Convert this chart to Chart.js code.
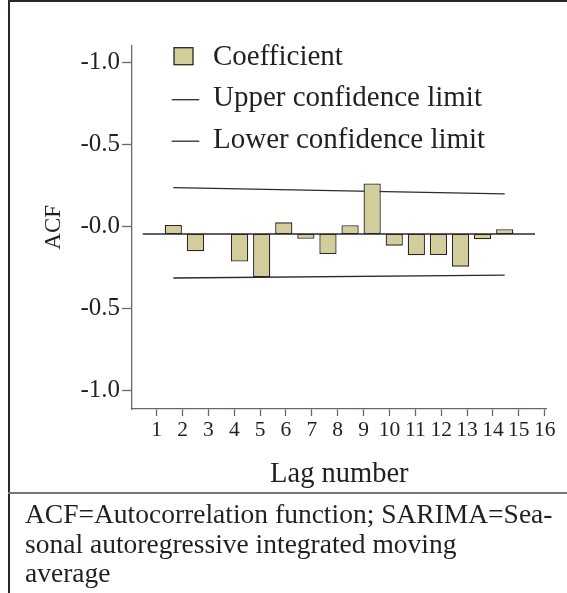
<!DOCTYPE html>
<html>
<head>
<meta charset="utf-8">
<script src="https://cdn.jsdelivr.net/npm/chart.js@4"></script>
<style>
  html, body { margin: 0; padding: 0; background: #fff; }
  #wrap { position: relative; width: 567px; height: 593px; overflow: hidden; }
  #chart { position: absolute; left: 0; top: 0; }
  .rule { position: absolute; background: #2b2726; }
  #note {
    position: absolute; left: 25px; top: 499.4px; width: 540px;
    font-family: "Liberation Serif", serif; font-size: 27.5px; line-height: 29.2px;
    color: #231f20; white-space: nowrap;
  }
</style>
</head>
<body>
<div id="wrap">
  <canvas id="chart" width="567" height="493"></canvas>
  <div class="rule" style="left:8px;top:0;width:2px;height:593px;"></div>
  <div class="rule" style="left:8px;top:0;width:559px;height:2px;"></div>
  <div class="rule" style="left:8px;top:492px;width:559px;height:2px;background:#7a7674;"></div>
  <div id="note">ACF=Autocorrelation function; SARIMA=Sea-<br>sonal autoregressive integrated moving<br>average</div>
</div>
<script>
// Dados
const lags = [1, 2, 3, 4, 5, 6, 7, 8, 9, 10, 11, 12, 13, 14, 15, 16];
const acfValues = [0.055, -0.105, 0, -0.168, -0.262, 0.071, -0.029, -0.122, 0.053, 0.308, -0.071, -0.130, -0.128, -0.199, -0.032, 0.029];
const limitLags = [1, 16];
const upperLimit = [0.282, 0.245];
const lowerLimit = [-0.268, -0.251];
const zeroLineLags = [-0.385, 17.37];
const zeroLineValues = [0, 0];
const xTicks = [1, 2, 3, 4, 5, 6, 7, 8, 9, 10, 11, 12, 13, 14, 15, 16];
const yTickValues = [1, 0.5, 0, -0.5, -1];
const yTickLabels = ["-1.0", "-0.5", "-0.0", "-0.5", "-1.0"];

const textColor = "#231f20";
const axisColor = "#6d6864";
const lineColor = "#2b2b2b";
const serif = '"Liberation Serif", serif';

const toPoints = (xs, ys) => xs.map((x, i) => ({ x: x, y: ys[i] }));

// Legenda dentro da área do gráfico
const legendPlugin = {
  id: "inlineLegend",
  afterDraw(chart) {
    const ctx = chart.ctx;
    const a = chart.chartArea;
    const rows = chart.data.datasets.filter(d => d.inLegend);
    ctx.save();
    ctx.font = "29px " + serif;
    ctx.textBaseline = "alphabetic";
    rows.forEach((ds, i) => {
      const baseY = a.top + 19 + i * 41.5;
      if (ds.type === "line") {
        ctx.strokeStyle = ds.borderColor;
        ctx.lineWidth = 1.3;
        ctx.beginPath();
        ctx.moveTo(a.left + 39.7, baseY - 6.5);
        ctx.lineTo(a.left + 67.3, baseY - 6.5);
        ctx.stroke();
      } else {
        ctx.fillStyle = ds.backgroundColor;
        ctx.fillRect(a.left + 42, baseY - 17, 19, 17);
        ctx.strokeStyle = ds.borderColor;
        ctx.lineWidth = 1.3;
        ctx.strokeRect(a.left + 42, baseY - 17, 19, 17);
      }
      ctx.fillStyle = textColor;
      ctx.fillText(ds.label, a.left + 81, baseY);
    });
    ctx.restore();
  }
};

new Chart(document.getElementById("chart"), {
  type: "bar",
  data: {
    datasets: [
      {
        label: "Coefficient",
        inLegend: true,
        data: toPoints(lags, acfValues),
        xAxisID: "xb",
        yAxisID: "yb",
        backgroundColor: "#d3cd9c",
        borderColor: "#2a2820",
        borderWidth: 1.3,
        borderSkipped: false,
        barPercentage: 0.78,
        categoryPercentage: 1
      },
      {
        type: "line",
        label: "Upper confidence limit",
        inLegend: true,
        data: toPoints(limitLags, upperLimit),
        xAxisID: "xb",
        yAxisID: "yb",
        borderColor: lineColor,
        borderWidth: 1.3,
        pointRadius: 0,
        order: 0
      },
      {
        type: "line",
        label: "Lower confidence limit",
        inLegend: true,
        data: toPoints(limitLags, lowerLimit),
        xAxisID: "xb",
        yAxisID: "yb",
        borderColor: lineColor,
        borderWidth: 1.3,
        pointRadius: 0,
        order: 0
      },
      {
        type: "line",
        label: "zero",
        data: toPoints(zeroLineLags, zeroLineValues),
        xAxisID: "xb",
        yAxisID: "yb",
        borderColor: lineColor,
        borderWidth: 1.3,
        pointRadius: 0,
        order: 2
      }
    ]
  },
  options: {
    responsive: false,
    animation: false,
    layout: { padding: { left: 0, right: 20.3, top: 45.7, bottom: 0 } },
    plugins: {
      legend: { display: false },
      tooltip: { enabled: false }
    },
    scales: {
      x: {
        type: "linear",
        position: "bottom",
        offset: false,
        min: 0.046,
        max: 16.08,
        afterBuildTicks: s => { s.ticks = xTicks.map(v => ({ value: v })); },
        afterFit: s => { s.height = 84; },
        border: { color: axisColor, width: 1.3 },
        grid: { offset: false, drawOnChartArea: false, tickLength: 7, tickColor: axisColor, tickWidth: 1.3 },
        ticks: { color: textColor, font: { family: serif, size: 21.5 }, padding: 1, maxRotation: 0, autoSkip: false },
        title: { display: true, text: "Lag number", color: textColor, font: { family: serif, size: 28.5 }, padding: { top: 0, bottom: 1 } }
      },
      y: {
        type: "linear",
        position: "left",
        min: -1.111,
        max: 1.101,
        afterBuildTicks: s => { s.ticks = yTickValues.map(v => ({ value: v })); },
        afterFit: s => { s.width = 132; },
        border: { color: axisColor, width: 1.3 },
        grid: { drawOnChartArea: false, tickLength: 10, tickColor: axisColor, tickWidth: 1.3 },
        ticks: {
          color: textColor,
          font: { family: serif, size: 25 },
          padding: 2,
          callback: v => yTickLabels[yTickValues.indexOf(v)]
        },
        title: { display: true, text: "ACF", color: textColor, font: { family: serif, size: 23 }, padding: { top: 40, bottom: 0 } }
      },
      xb: { type: "linear", display: false, offset: false, grid: { offset: false }, min: -0.869, max: 17.9 },
      yb: { type: "linear", display: false, min: -1.066, max: 1.147 }
    }
  },
  plugins: [legendPlugin]
});
</script>
</body>
</html>
